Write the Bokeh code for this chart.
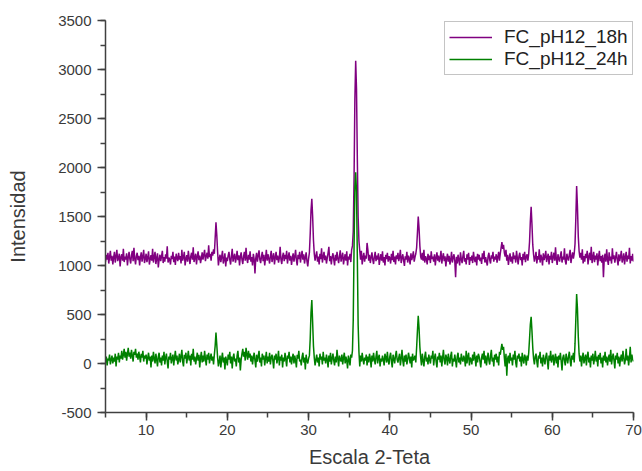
import numpy as np
from bokeh.plotting import figure
from bokeh.models import (SingleIntervalTicker, Legend, LegendItem, ColumnDataSource,
                          Range1d, PrintfTickFormatter)
from bokeh.embed import file_html
from bokeh.resources import INLINE

# 2-theta grid: 5.0 .. 70.0 step 0.1
x_start = 5.0
x_step = 0.1

# FC_pH12_18h intensities (one row per degree, 10 values per row)
int_18h = [
    1040,1110,1060,1130,1020,1090,1150,1050,1100,1010,
    1080,1140,1030,1095,1160,1045,1075,1120,990,1085,
    1115,1050,1170,1035,1090,1060,1125,1000,1080,1140,
    1065,1020,1105,1150,1045,1180,1070,1010,1095,1130,
    1055,1100,1000,1085,1135,1040,1090,1160,1025,1070,
    1120,1035,1080,1145,1010,1065,1105,1050,1170,1030,
    1090,1140,1015,1075,1125,980,1060,1110,1045,1095,
    1150,1025,1085,1040,1115,1070,1195,1030,1080,1060,
    1010,1100,1065,1140,1035,1090,1005,1120,1075,1045,
    1130,1060,1095,1020,1160,1050,1085,1140,1000,1070,
    1105,1040,1150,1075,1015,1095,1130,1060,1185,1035,
    1080,1120,1010,1090,1145,1055,1100,1025,1070,1135,
    1060,1110,1160,1045,1095,1130,1070,1205,1085,1120,
    1050,1140,1100,1165,1120,1280,1440,1310,1140,1000,
    1070,1110,1035,1090,1150,1020,1060,1125,990,1080,
    1045,1100,1140,1060,1010,1095,1170,1040,1085,1120,
    1030,1075,1150,1055,1105,1000,1090,1135,1060,1015,
    1095,1140,1050,1180,1070,1025,1110,1060,1145,1040,
    1085,1000,1120,1065,920,1075,1130,1040,1100,1155,
    1060,1025,1090,1140,1045,1110,1000,1075,1160,1050,
    1115,1070,1020,1095,1150,1035,1085,1125,1010,1080,
    1140,1055,1100,1030,1075,1190,1060,1015,1095,1130,
    1045,1110,1065,1150,1020,1085,1135,1050,1100,1005,
    1075,1125,1040,1090,1160,1055,1000,1110,1065,1140,
    1030,1095,1150,1060,1115,1020,1080,1135,1045,990,
    1070,1130,1320,1560,1680,1500,1260,1120,1050,1100,
    1145,1040,1090,1010,1120,1065,1175,1030,1085,1140,
    1055,1100,1020,1075,1130,1190,1045,1095,1010,1085,
    1125,1060,1000,1110,1050,1140,1070,1025,1095,1155,
    1040,1085,1130,1010,1070,1115,1050,1145,1000,1090,
    1060,1120,1035,1160,1200,1350,1900,2700,3090,2800,
    2100,1500,1250,1150,1060,1150,1010,1080,1130,1040,
    1100,1070,1230,1160,1050,1110,1025,1080,1135,1060,
    1015,1090,1140,1045,1100,1060,1125,1005,1070,1115,
    1050,1145,1030,1085,1000,1110,1065,1130,1040,1095,
    1075,1020,1120,1055,1150,1035,1090,1010,1105,1065,
    1130,1045,1085,1160,1025,1075,1115,1050,995,1095,
    1060,1140,1030,1100,1070,1010,1125,1055,1090,1145,
    1040,1085,1120,1180,1330,1500,1380,1200,1090,1060,
    1130,1050,1160,1030,1095,1070,1010,1120,1055,1100,
    1025,1145,1065,1090,1040,1115,1000,1080,1135,1050,
    1100,1035,1075,1150,1020,1085,1125,1045,1095,990,
    1070,1120,1040,1100,1010,1060,1140,1030,1080,1115,
    1045,880,1090,1020,1110,1055,1000,1135,1065,1025,
    1095,1150,1040,1075,1010,1115,1060,1130,1005,1085,
    1050,1100,1025,1140,1070,1035,1090,1000,1120,1060,
    1110,1045,1080,1015,1125,1065,1150,1030,1085,1040,
    1000,1095,1130,1055,1020,1105,1070,1140,1040,1090,
    1060,1115,1030,1085,1140,1050,1120,1180,1240,1170,
    1210,1130,1090,1160,1050,1110,1005,1075,1125,1040,
    1090,1020,1135,1065,1100,1030,1150,1075,1010,1095,
    1130,1055,1085,1000,1120,1060,1140,1035,1090,1115,
    1050,1120,1240,1450,1600,1420,1210,1110,1040,1085,
    1140,1020,1095,1060,1165,1030,1110,1075,1000,1125,
    1055,1090,1150,1035,1080,1120,1010,1100,1060,1140,
    1025,1085,1130,1050,1185,1065,1005,1115,1070,1040,
    1100,1145,1030,1090,1060,1175,1045,1010,1120,1075,
    1050,1110,1160,1025,1085,1135,1070,1120,1220,1480,
    1810,1600,1300,1150,1080,1130,1060,1165,1020,1095,
    1040,1120,1075,1150,1010,1090,1130,1055,1190,1025,
    1080,1140,1035,1100,1060,1125,1000,1085,1150,1045,
    1095,1030,1110,880,1070,1120,1040,1165,1060,1005,
    1135,1050,1090,1020,1175,1065,1105,1030,1080,1140,
    1060,1000,1115,1045,1090,1150,1030,1070,1125,1010,
    1085,1140,1040,1100,1065,1180,1020,1095,1050,1120,
    1040,
]

# FC_pH12_24h intensities
int_24h = [
    10,70,-20,50,30,90,-10,40,80,0,
    60,20,100,-30,70,40,110,10,80,50,
    130,40,90,150,60,120,30,100,160,70,
    110,50,140,80,20,120,90,150,60,100,
    40,120,70,10,100,60,130,20,80,50,
    90,-10,60,110,30,70,-40,80,20,120,
    50,0,100,40,-30,70,110,10,60,-20,
    80,30,120,-10,60,100,20,-50,70,40,
    110,0,50,90,-20,60,130,30,80,-10,
    40,100,10,70,140,20,-30,90,50,110,
    0,60,130,30,80,-20,100,40,150,20,
    70,-10,50,110,30,90,-40,60,120,10,
    80,20,130,50,-20,90,40,110,0,60,
    100,30,70,-10,90,180,317,190,60,-30,
    20,80,-40,50,110,10,60,-60,70,30,
    -20,90,40,120,0,70,-50,60,100,20,
    50,-30,80,130,10,60,-70,40,100,150,
    70,120,30,160,90,40,130,60,100,20,
    80,-10,60,110,30,-40,90,20,70,130,
    10,60,-30,100,40,80,-20,50,120,0,
    70,20,110,-10,60,90,30,-50,80,40,
    100,0,50,130,-20,70,30,90,-40,60,
    20,110,40,-30,80,50,120,10,70,-10,
    60,100,0,80,30,-40,90,50,130,20,
    40,-20,70,110,10,60,-60,90,30,0,
    50,80,250,520,648,420,180,60,-20,40,
    90,10,60,-30,100,40,70,-10,120,30,
    60,0,90,40,-40,80,20,110,-10,50,
    100,30,-20,70,10,140,50,-30,80,40,
    20,90,-10,60,110,0,70,30,-50,80,
    40,-20,90,60,130,450,1200,1800,1951,1750,
    1100,400,120,-30,80,20,110,40,-10,60,
    30,90,-20,70,10,100,50,-40,80,20,
    110,40,-10,70,130,0,60,90,-30,50,
    20,80,40,-20,100,60,10,120,30,-10,
    70,110,20,-40,90,50,0,80,130,40,
    10,60,100,-20,50,140,30,-30,80,20,
    90,-10,40,110,60,0,70,-40,100,30,
    50,80,10,160,330,488,360,170,60,-20,
    100,30,-30,70,120,20,60,-10,90,40,
    0,80,50,130,-20,60,100,20,-40,70,
    40,110,10,80,-30,60,140,30,-10,90,
    60,-20,100,40,0,80,120,-30,50,20,
    90,30,-40,70,110,10,60,-10,100,40,
    20,80,50,-30,130,0,70,110,-20,60,
    40,-10,90,30,120,60,-30,80,10,100,
    70,20,-40,60,100,40,130,0,80,-20,
    50,110,30,-10,80,140,20,60,-30,90,
    40,100,10,70,-20,120,90,150,200,140,
    170,60,-30,100,-125,50,80,0,110,30,
    60,-20,90,40,130,10,-40,80,50,100,
    20,70,-30,110,40,0,90,60,-20,80,
    30,110,250,400,477,330,160,50,-10,70,
    100,20,-40,80,50,120,0,60,-30,90,
    40,-10,70,110,20,-60,80,30,130,10,
    60,90,-20,50,100,0,70,-40,80,40,
    110,20,-70,60,90,30,-20,100,50,0,
    70,120,30,-30,80,40,110,10,200,450,
    709,560,280,100,20,80,-30,60,110,0,
    50,90,-20,70,120,10,60,-40,80,30,
    100,-10,50,130,20,70,-30,90,40,110,
    0,60,-40,80,30,120,10,70,-20,50,
    90,20,140,-10,60,100,30,-50,80,40,
    110,0,70,-30,50,90,20,130,60,-10,
    40,150,30,80,-20,60,170,10,90,40,
    20,
]

series_names = ["FC_pH12_18h", "FC_pH12_24h"]
series_colors = ["#800080", "#008000"]

n = len(int_18h)
assert n == len(int_24h) == 651
two_theta = [round(x_start + i * x_step, 1) for i in range(n)]

src = ColumnDataSource(dict(x=two_theta, a=int_18h, b=int_24h))

FONT = "Liberation Sans"
TXT = "#3a3a3a"

p = figure(width=642, height=471, output_backend="svg", toolbar_location=None,
           x_range=Range1d(5, 70), y_range=Range1d(-500, 3500),
           min_border_left=105, min_border_right=9, min_border_top=20, min_border_bottom=59)
p.outline_line_color = None
p.xgrid.visible = False
p.ygrid.visible = False
p.background_fill_color = "white"
p.border_fill_color = "white"

r1 = p.line("x", "a", source=src, line_color=series_colors[0], line_width=1.5)
r2 = p.line("x", "b", source=src, line_color=series_colors[1], line_width=1.5)

p.xaxis.ticker = SingleIntervalTicker(interval=10, num_minor_ticks=2)
p.yaxis.ticker = SingleIntervalTicker(interval=500, num_minor_ticks=2)
p.yaxis.formatter = PrintfTickFormatter(format="%d")

for ax in (p.xaxis[0], p.yaxis[0]):
    ax.axis_line_color = "#404040"
    ax.axis_line_width = 1.5
    ax.major_tick_line_color = "#404040"
    ax.minor_tick_line_color = "#404040"
    ax.major_tick_line_width = 1.5
    ax.minor_tick_line_width = 1.5
    ax.major_tick_out = 8
    ax.major_tick_in = 0
    ax.minor_tick_out = 5
    ax.minor_tick_in = 0
    ax.major_label_text_font = FONT
    ax.major_label_text_font_size = "15px"
    ax.major_label_text_color = TXT
    ax.axis_label_text_font = FONT
    ax.axis_label_text_font_size = "20px"
    ax.axis_label_text_font_style = "normal"
    ax.axis_label_text_color = TXT

p.xaxis.axis_label = "Escala 2-Teta"
p.yaxis.axis_label = "Intensidad"
p.xaxis.major_label_standoff = 4
p.xaxis.axis_label_standoff = 8
p.yaxis.major_label_standoff = 6
p.yaxis.axis_label_standoff = 26

legend = Legend(items=[LegendItem(label=series_names[0], renderers=[r1]),
                       LegendItem(label=series_names[1], renderers=[r2])],
                location=(339, 337))
legend.label_text_font = FONT
legend.label_text_font_size = "19px"
legend.label_text_color = "#222222"
legend.glyph_width = 43
legend.glyph_height = 18
legend.label_height = 18
legend.label_standoff = 12
legend.spacing = 0
legend.padding = 4
legend.margin = 0
legend.border_line_color = "#8a8a8a"
legend.border_line_width = 1
legend.background_fill_color = "white"
legend.background_fill_alpha = 1
p.add_layout(legend)

open("out.html", "w").write(file_html(p, INLINE))
